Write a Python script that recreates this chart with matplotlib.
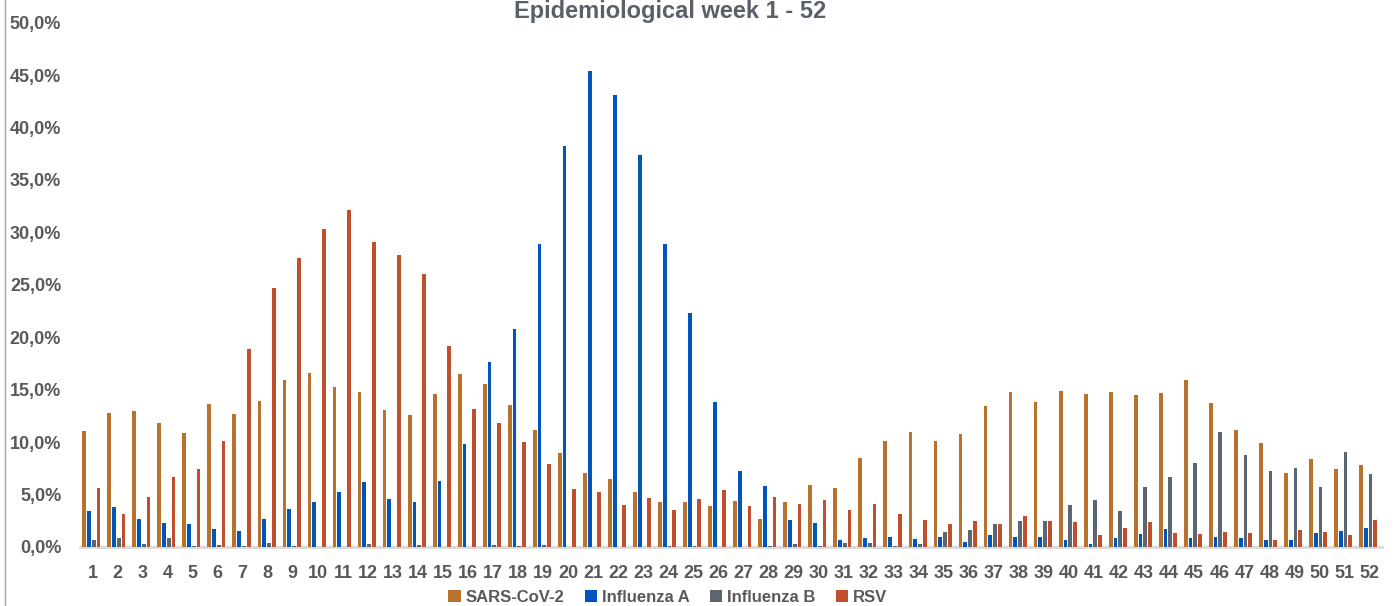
import matplotlib
matplotlib.use("Agg")
import matplotlib.pyplot as plt
import numpy as np
from matplotlib.patches import Patch
from matplotlib.lines import Line2D

weeks = list(range(1, 53))
sars_cov2 = [11.1, 12.8, 13.0, 11.8, 10.9, 13.65, 12.7, 13.9, 15.9, 16.6,
             15.3, 14.8, 13.1, 12.55, 14.6, 16.45, 15.55, 13.5, 11.2, 9.0,
             7.05, 6.45, 5.2, 4.3, 4.3, 3.9, 4.4, 2.7, 4.3, 5.95,
             5.65, 8.45, 10.15, 11.0, 10.1, 10.75, 13.45, 14.8, 13.8, 14.9,
             14.55, 14.8, 14.5, 14.65, 15.9, 13.7, 11.2, 9.95, 7.05, 8.4,
             7.4, 7.8]
influenza_a = [3.4, 3.8, 2.7, 2.3, 2.15, 1.7, 1.5, 2.65, 3.6, 4.3,
               5.25, 6.15, 4.55, 4.3, 6.25, 9.8, 17.6, 20.8, 28.9, 38.2,
               45.4, 43.1, 37.4, 28.9, 22.3, 13.8, 7.2, 5.8, 2.6, 2.25,
               0.65, 0.85, 1.0, 0.8, 1.0, 0.5, 1.1, 1.0, 1.0, 0.7,
               0.3, 0.9, 1.2, 1.7, 0.9, 0.95, 0.9, 0.65, 0.65, 1.3,
               1.55, 1.85]
influenza_b = [0.65, 0.9, 0.3, 0.9, 0.1, 0.2, 0.05, 0.35, 0.05, 0.0,
               0.0, 0.3, 0.0, 0.2, 0.0, 0.0, 0.2, 0.05, 0.15, 0.0,
               0.0, 0.0, 0.0, 0.05, 0.05, 0.0, 0.0, 0.1, 0.3, 0.05,
               0.35, 0.4, 0.05, 0.3, 1.4, 1.6, 2.2, 2.45, 2.45, 4.0,
               4.45, 3.4, 5.75, 6.7, 8.05, 11.0, 8.8, 7.2, 7.5, 5.75,
               9.1, 6.95]
rsv = [5.6, 3.1, 4.8, 6.65, 7.45, 10.1, 18.9, 24.7, 27.6, 30.3,
       32.1, 29.1, 27.8, 26.0, 19.2, 13.2, 11.85, 10.0, 7.9, 5.5,
       5.2, 4.0, 4.7, 3.55, 4.55, 5.4, 3.95, 4.8, 4.1, 4.5,
       3.5, 4.1, 3.1, 2.6, 2.2, 2.5, 2.2, 3.0, 2.45, 2.35,
       1.1, 1.85, 2.4, 1.3, 1.25, 1.4, 1.3, 0.65, 1.6, 1.4,
       1.15, 2.55]

series = [("SARS-CoV-2", sars_cov2, "#B8722B"),
          ("Influenza A", influenza_a, "#0054BE"),
          ("Influenza B", influenza_b, "#5C6670"),
          ("RSV", rsv, "#C04F2D")]

FONT = ["Liberation Sans", "DejaVu Sans"]
TXT = "#595959"

fig = plt.figure(figsize=(13.95, 6.06), dpi=100)
ax = fig.add_axes([80/1395, 1-547/606, (1382-80)/1395, (547-22.6)/606])

x = np.arange(1, 53)
pitch = 0.19
width = 0.15
for i, (name, vals, col) in enumerate(series):
    ax.bar(x + (i - 1.5) * pitch - 0.05, vals, width=width, color=col,
           edgecolor="none", label=name, zorder=3)

ax.set_xlim(0.5, 52.5)
ax.set_ylim(0, 50)
ax.set_yticks(np.arange(0, 50.1, 5))
ax.set_yticklabels([f"{v:.1f}%".replace(".", ",") for v in np.arange(0, 50.1, 5)],
                   fontfamily=FONT, fontweight="bold", fontsize=13, color=TXT)
ax.set_xticks(x)
ax.set_xticklabels([str(w) for w in weeks], fontfamily=FONT, fontweight="bold",
                   fontsize=13, color=TXT)
ax.tick_params(axis="both", length=0)
ax.tick_params(axis="y", pad=13.5)
ax.tick_params(axis="x", pad=13)
for s in ["top", "right", "left"]:
    ax.spines[s].set_visible(False)
ax.spines["bottom"].set_color("#D9D9D9")
ax.spines["bottom"].set_linewidth(2)

handles = [Patch(facecolor=c, edgecolor="none", label=n) for n, _, c in series]
leg = fig.legend(handles=handles, loc="center", bbox_to_anchor=(668/1395, 1-597/606),
                 ncol=4, frameon=False, handlelength=0.75, handleheight=0.75,
                 handletextpad=0.3, columnspacing=1.2,
                 prop={"family": FONT, "weight": "bold", "size": 12})
for t in leg.get_texts():
    t.set_color(TXT)

fig.text(670/1395, 1-18/606, "Epidemiological week 1 - 52", ha="center", va="baseline",
         fontfamily=FONT, fontweight="bold", fontsize=17, color="#58606A")

fig.add_artist(Line2D([5/1395, 5/1395], [0, 1], transform=fig.transFigure,
                      color="#A6A6A6", linewidth=1))

fig.savefig("out.png", dpi=100)
